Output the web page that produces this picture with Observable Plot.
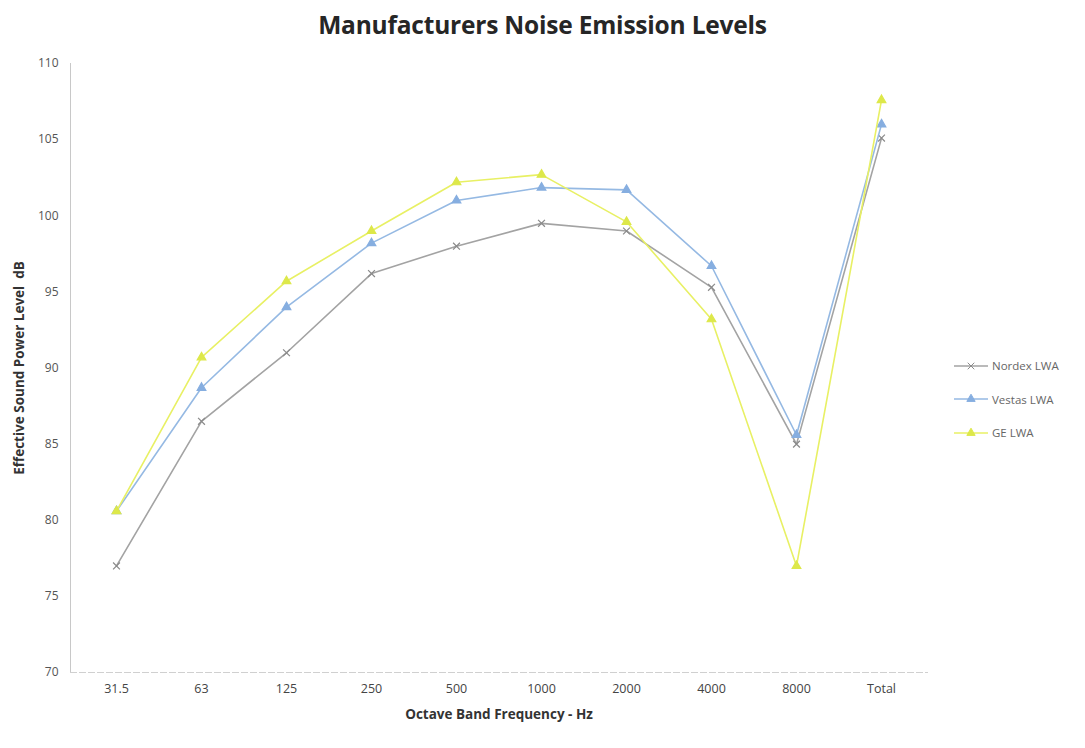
<!DOCTYPE html>
<html>
<head>
<meta charset="utf-8">
<script src="https://cdn.jsdelivr.net/npm/d3@7"></script>
<script src="https://cdn.jsdelivr.net/npm/@observablehq/plot@0.6"></script>
<style>
  html, body { margin: 0; padding: 0; background: #fff; }
  body { width: 1085px; height: 748px; position: relative; overflow: hidden; font-family: "Open Sans", "Noto Sans", sans-serif; }
  #title { height: 48px; line-height: 50px; text-align: center; font-size: 24.5px; font-weight: 700; color: #262626; letter-spacing: -0.2px; }
  #legend { position: absolute; left: 952px; top: 349px; font-size: 11.5px; color: #666; }
  #legend .item { display: flex; align-items: center; height: 33.5px; }
  #legend svg { margin-right: 2px; }
</style>
</head>
<body>
<div id="title">Manufacturers Noise Emission Levels</div>
<div id="chart"></div>
<div id="legend"></div>
<script>
// Octave band centre frequencies plus overall total
const bands = ["31.5", "63", "125", "250", "500", "1000", "2000", "4000", "8000", "Total"];

// Effective sound power level (dB) per band for each turbine manufacturer
const nordex = [77.0, 86.5, 91.0, 96.2, 98.0, 99.5, 99.0, 95.3, 85.0, 105.1];
const vestas = [80.6, 88.7, 94.0, 98.2, 101.0, 101.85, 101.7, 96.7, 85.6, 106.0];
const ge     = [80.6, 90.7, 95.7, 99.0, 102.2, 102.7, 99.6, 93.2, 77.0, 107.6];

const yTicks = [70, 75, 80, 85, 90, 95, 100, 105, 110];

const series = [
  {name: "Nordex LWA", values: nordex, color: "#a3a3a3", marker: "times", markColor: "#8a8a8a"},
  {name: "Vestas LWA", values: vestas, color: "#95b9e3", marker: "triangle", markColor: "#86aee0"},
  {name: "GE LWA",     values: ge,     color: "#e8f064", marker: "triangle", markColor: "#dde84a"}
];

const rows = series.flatMap(s => bands.map((b, i) => ({series: s.name, band: b, level: s.values[i]})));

const marks = [
  Plot.frame({anchor: "left", stroke: "#c8c8c8"}),
  Plot.frame({anchor: "bottom", stroke: "#d0d0d0", strokeDasharray: "6,3"}),
  Plot.axisY({
    ticks: yTicks, tickSize: 0, tickPadding: 12, fontSize: 12, fill: "#555",
    label: "Effective Sound Power Level  dB", labelAnchor: "center", labelArrow: "none", labelOffset: 56
  }),
  Plot.axisX({tickSize: 0, tickPadding: 12, fontSize: 12.5, fill: "#444",
    label: "Octave Band Frequency - Hz", labelAnchor: "center", labelArrow: "none", labelOffset: 46})
];

for (const s of series) {
  const d = rows.filter(r => r.series === s.name);
  marks.push(Plot.line(d, {x: "band", y: "level", stroke: s.color, strokeWidth: 1.6}));
  marks.push(Plot.dot(d, {x: "band", y: "level", symbol: () => s.marker, r: 3.2,
    stroke: s.markColor, fill: s.marker === "times" ? "none" : s.markColor, strokeWidth: 1.2}));
}

const plot = Plot.plot({
  width: 1085,
  height: 700,
  marginLeft: 70,
  marginRight: 158,
  marginTop: 15,
  marginBottom: 76,
  style: {fontFamily: "'Open Sans', 'Noto Sans', sans-serif", overflow: "visible"},
  x: {type: "point", domain: bands, padding: 0.5, label: "Octave Band Frequency - Hz"},
  y: {domain: [70, 110], label: "Effective Sound Power Level  dB"},
  symbol: {type: "identity"},
  marks
});

// bold axis titles
plot.querySelectorAll("[aria-label='y-axis label'] text, [aria-label='x-axis label'] text").forEach(t => {
  t.setAttribute("font-weight", "bold");
  t.setAttribute("fill", "#333");
  t.setAttribute("font-size", "13.5");
});

document.getElementById("chart").appendChild(plot);

// legend
const legend = d3.select("#legend");
for (const s of series) {
  const item = legend.append("div").attr("class", "item");
  const svg = item.append("svg").attr("width", 38).attr("height", 12);
  svg.append("line").attr("x1", 2).attr("x2", 36).attr("y1", 6).attr("y2", 6)
    .attr("stroke", s.color).attr("stroke-width", 1.6);
  const sym = d3.symbol(s.marker === "times" ? d3.symbolTimes : d3.symbolTriangle, 30)();
  svg.append("path").attr("d", sym).attr("transform", "translate(19,6)")
    .attr("stroke", s.markColor).attr("fill", s.marker === "times" ? "none" : s.markColor);
  item.append("span").text(s.name);
}
</script>
</body>
</html>
